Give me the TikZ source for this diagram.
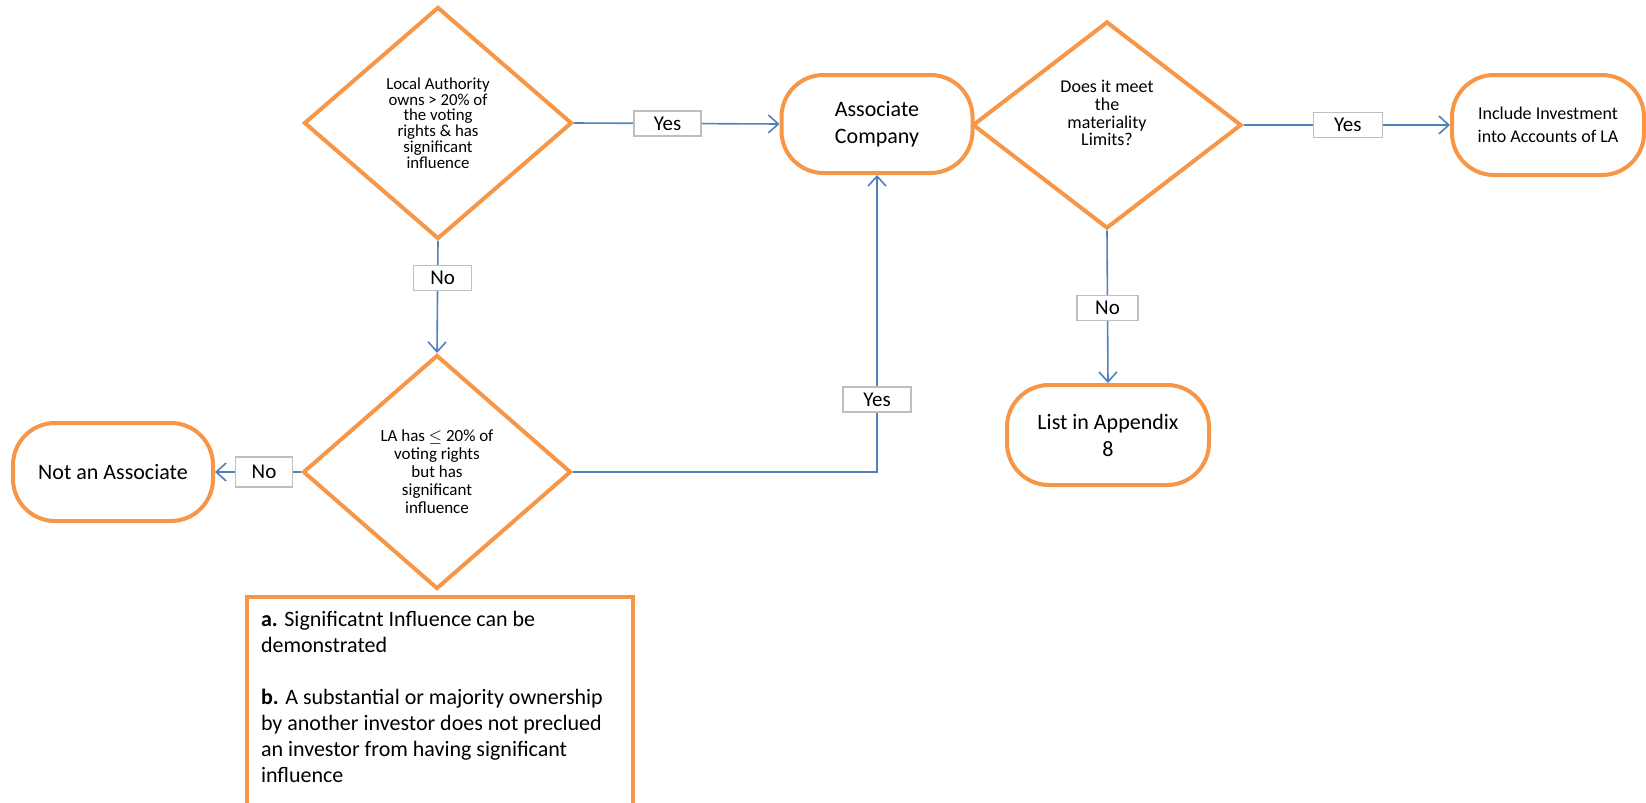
\documentclass[tikz,border=0pt]{standalone}
\usepackage{fontspec}
\setmainfont{Carlito}
\usetikzlibrary{shapes.geometric,arrows.meta}
\definecolor{orng}{HTML}{F79646}
\definecolor{blu}{HTML}{4F81BD}
\definecolor{gry}{HTML}{BFBFBF}
\begin{document}
\begin{tikzpicture}[x=0.5pt,y=-0.5pt,
  dec/.style={diamond, draw=orng, line width=2pt, fill=white, inner sep=0pt, align=center},
  term/.style={rectangle, rounded corners=21pt, draw=orng, line width=2pt, fill=white, inner sep=0pt, align=center},
  conn/.style={draw=blu, line width=0.8pt, -{Straight Barb[length=5pt,width=9pt]}},
  lbl/.style={draw=gry, fill=white, line width=0.6pt, font=\fontsize{10.5}{12}\selectfont, minimum height=12.5pt, inner sep=0pt},
  notebox/.style={rectangle, draw=orng, line width=2pt, fill=white, inner xsep=7pt, inner ysep=7pt, anchor=north west}
]
\useasboundingbox (0,0) rectangle (1646,803);
\clip (0,0) rectangle (1646,803);

% decisions
\node[dec, minimum width=134pt, minimum height=116pt, font=\fontsize{8.4}{7.9}\selectfont] (d1) at (438,123)
  {Local Authority\\owns > 20\% of\\the voting\\rights \& has\\significant\\influence};
\node[dec, minimum width=134pt, minimum height=117pt, font=\fontsize{8.5}{9}\selectfont] (d2) at (437,472)
  {LA has \ensuremath{\leq} 20\% of\\voting rights\\but has\\significant\\influence};
\node[dec, minimum width=134.5pt, minimum height=103.5pt, font=\fontsize{9}{8.9}\selectfont] (d3) at (1107,125)
  {Does it meet\\the\\materiality\\Limits?\\[3pt]};

% terminals
\node[term, minimum width=95.5pt, minimum height=49pt, font=\fontsize{11}{13.5}\selectfont] (assoc) at (877,124)
  {Associate\\Company};
\node[term, minimum width=96pt, minimum height=50pt, font=\fontsize{9}{11.5}\selectfont] (incl) at (1548,125)
  {Include Investment\\into Accounts of LA};
\node[term, minimum width=100pt, minimum height=49pt, font=\fontsize{11}{13.5}\selectfont] (notassoc) at (113,472)
  {Not an Associate};
\node[term, minimum width=101pt, minimum height=50pt, font=\fontsize{11}{13.5}\selectfont] (list) at (1108,435)
  {List in Appendix\\8};

% note box
\node[notebox] (note) at (245,595)
  {\parbox[t][118pt][t]{179pt}{\raggedright\fontsize{11}{13}\selectfont
   \textbf{a.} Significatnt Influence can be\\
   demonstrated\\[13pt]
   \textbf{b.} A substantial or majority ownership\\
   by another investor does not preclued\\
   an investor from having significant\\
   influence}};

% connectors
\draw[conn] (d1.east) -- node[lbl, minimum width=33.5pt, pos=0.455] (yes1) {Yes} (assoc.west);
\draw[conn] (d1.south) -- node[lbl, minimum width=29pt, pos=0.33, xshift=2.5pt] (no1) {No} (d2.north);
\draw[conn] (d2.east) -| node[lbl, minimum width=34pt, pos=0.622] (yes2) {Yes} (assoc.south);
\draw[conn] (d2.west) -- node[lbl, minimum width=28.5pt, minimum height=15pt, pos=0.43] (no2) {No} (notassoc.east);
\draw[conn] (d3.east) -- node[lbl, minimum width=34.5pt, pos=0.505] (yes3) {Yes} (incl.west);
\draw[conn] (d3.south) -- node[lbl, minimum width=30.5pt, pos=0.506] (no3) {No} (list.north);
\end{tikzpicture}
\end{document}
